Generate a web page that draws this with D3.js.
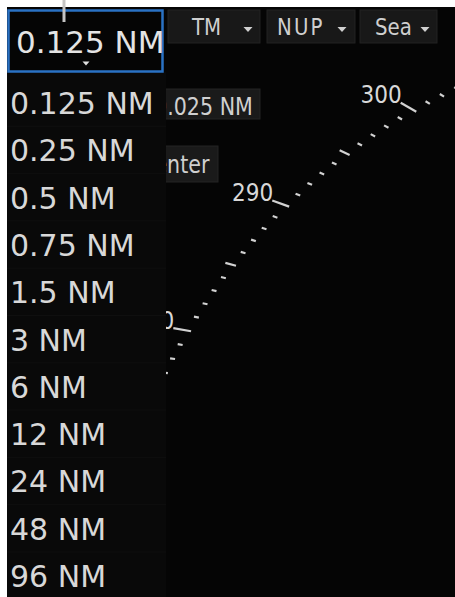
<!DOCTYPE html>
<html><head><meta charset="utf-8">
<script src="https://cdn.jsdelivr.net/npm/d3@7/dist/d3.min.js"></script>
<style>html,body{margin:0;padding:0;background:#fff;overflow:hidden}</style>
</head><body>
<svg id="c" width="455" height="597"></svg>
<script>
// ---- data ----
const rangeOptions = ["0.125 NM","0.25 NM","0.5 NM","0.75 NM","1.5 NM","3 NM","6 NM","12 NM","24 NM","48 NM","96 NM"];
const selectedRange = "0.125 NM";
const modeButtons = ["TM","NUP","Sea"];
const sideButtons = ["0.025 NM","Center"];
const bearingLabels = [280, 290, 300];
const bearingTicks = [270,271,272,273,274,275,276,277,278,279,280,281,282,283,284,285,286,287,288,289,290,
                      291,292,293,294,295,296,297,298,299,300,301,302,303,304,305,306,307,308,309,310];

// ---- layout ----
const W = 455, H = 597;
const svg = d3.select("#c");
const FONT = "'DejaVu Sans', sans-serif";
const TXT = "#d8d8d8";

svg.append("rect").attr("x",0).attr("y",0).attr("width",W).attr("height",H).attr("fill","#ffffff");
svg.append("rect").attr("x",7).attr("y",7).attr("width",W-7).attr("height",H-7).attr("fill","#050505");

// ---- bearing ring ----
const ring = {cx: 711, cy: 640, r: 607.5};
const angle = d3.scaleLinear().domain([280, 300]).range([-59.4, -29.3]); // compass deg on drawn ring
const rad = d => d * Math.PI / 180;
const ringPt = b => {
  const a = rad(angle(b));
  return [ring.cx + ring.r * Math.sin(a), ring.cy - ring.r * Math.cos(a)];
};
const outward = b => [Math.sin(rad(b)), -Math.cos(rad(b))];
const tickSpan = b => b % 10 === 0 ? [-3, 15] : (b % 5 === 0 ? [-3, 8] : [-2.5, 2.5]);

const gRing = svg.append("g");
gRing.selectAll("line").data(bearingTicks).join("line")
  .attr("x1", b => ringPt(b)[0] + outward(b)[0] * tickSpan(b)[0])
  .attr("y1", b => ringPt(b)[1] + outward(b)[1] * tickSpan(b)[0])
  .attr("x2", b => ringPt(b)[0] + outward(b)[0] * tickSpan(b)[1])
  .attr("y2", b => ringPt(b)[1] + outward(b)[1] * tickSpan(b)[1])
  .attr("stroke", "#d2d2d2").attr("stroke-width", 2.2);
gRing.selectAll("text").data(bearingLabels).join("text")
  .attr("transform", b => `translate(${ringPt(b)[0] + outward(b)[0] * 15 + 1},${ringPt(b)[1] + outward(b)[1] * 15 + 0.5}) scale(0.9,1)`)
  .attr("text-anchor", "end")
  .attr("font-family", FONT).attr("font-size", 24).attr("fill", TXT)
  .text(b => b);

// ---- mode buttons ----
const modeLayout = [
  {x: 168, w: 92, tx: 192, ax: 248},
  {x: 267, w: 88, tx: 277, ax: 342},
  {x: 360, w: 77, tx: 375, ax: 425}
];
const gMode = svg.append("g");
modeButtons.forEach((t, i) => {
  const L = modeLayout[i];
  gMode.append("rect").attr("x", L.x).attr("y", 10).attr("width", L.w).attr("height", 33)
    .attr("fill", "#181818").attr("stroke", "#222").attr("stroke-width", 1);
  gMode.append("text").attr("transform", `translate(${L.tx},35) scale(0.86,1)`)
    .attr("font-family", FONT).attr("font-size", 23).attr("fill", "#cfcfcf")
    .attr("letter-spacing", t === "NUP" ? 2.5 : 0)
    .text(t);
  gMode.append("path")
    .attr("d", `M${L.ax-4.5},27 L${L.ax+4.5},27 L${L.ax},32 Z`)
    .attr("fill", "#d0d0d0");
});

// ---- side buttons (partly hidden behind list) ----
const sideLayout = [
  {y: 89, h: 30, right: 260, tx: 154, ty: 115},
  {y: 146, h: 36, right: 218, tx: 140, ty: 173}
];
const gSide = svg.append("g");
sideButtons.forEach((t, i) => {
  const L = sideLayout[i];
  gSide.append("rect").attr("x", 120).attr("y", L.y).attr("width", L.right - 120).attr("height", L.h)
    .attr("fill", "#1a1a1a").attr("stroke", "#242424").attr("stroke-width", 1);
  gSide.append("text").attr("transform", `translate(${L.tx},${L.ty}) scale(0.86,1)`)
    .attr("font-family", FONT).attr("font-size", 24).attr("fill", "#cfcfcf").text(t);
});

// ---- dropdown list ----
const panel = {x: 7, y: 72, w: 159};
svg.append("rect").attr("x", panel.x).attr("y", panel.y).attr("width", panel.w).attr("height", H - panel.y)
  .attr("fill", "#090909");
const yItem = d3.scalePoint().domain(rangeOptions).range([114, 587]);
const gList = svg.append("g");
gList.selectAll("line").data(rangeOptions.slice(1)).join("line")
  .attr("x1", panel.x).attr("x2", panel.x + panel.w)
  .attr("y1", d => yItem(d) - 35).attr("y2", d => yItem(d) - 35)
  .attr("stroke", "#0f0f0f").attr("stroke-width", 1);
gList.selectAll("text").data(rangeOptions).join("text")
  .attr("x", 10).attr("y", d => yItem(d))
  .attr("font-family", FONT).attr("font-size", 30).attr("fill", TXT)
  .text(d => d);

// ---- selected range box ----
svg.append("rect").attr("x", 8.5).attr("y", 10.5).attr("width", 154).attr("height", 61)
  .attr("fill", "#050505").attr("stroke", "#2a72c4").attr("stroke-width", 2.5);
svg.append("text").attr("x", 16).attr("y", 53)
  .attr("font-family", FONT).attr("font-size", 31).attr("fill", "#e4e4e4").text(selectedRange);
svg.append("path").attr("d", "M82.5,61.5 L89.5,61.5 L86,65.5 Z").attr("fill", "#e0e0e0");

// ---- callout leader ----
svg.append("line").attr("x1", 64).attr("x2", 64).attr("y1", 0).attr("y2", 22)
  .attr("stroke", "#c4c4c4").attr("stroke-width", 3);
</script>
</body></html>
